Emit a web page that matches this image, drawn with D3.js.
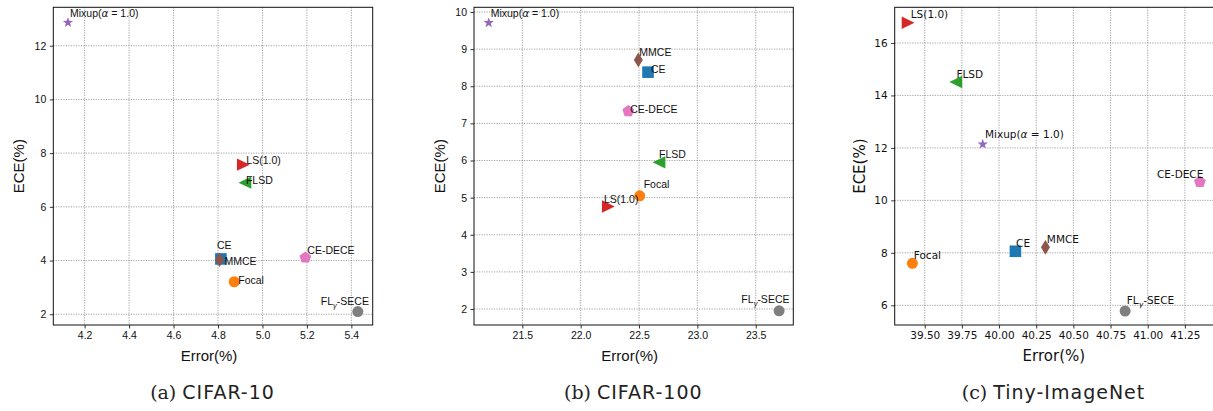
<!DOCTYPE html>
<html>
<head>
<meta charset="utf-8">
<script src="https://cdn.jsdelivr.net/npm/d3@7"></script>
<style>
  html, body { margin: 0; padding: 0; background: #fff; }
  svg { display: block; }
</style>
</head>
<body>
<div id="chart"></div>
<script>
// methods and their marker style
const methods = ["CE", "Focal", "FLSD", "LS(1.0)", "Mixup", "MMCE", "CE-DECE", "FL-SECE"];
const colors = ["#1f77b4", "#ff7f0e", "#2ca02c", "#d62728", "#9467bd", "#8c564b", "#e377c2", "#7f7f7f"];
const shapes = ["square", "circle", "triLeft", "triRight", "star", "thinDiamond", "pentagon", "circle"];

// (a) CIFAR-10
const errC10 = [4.813, 4.873, 4.921, 4.914, 4.125, 4.807, 5.193, 5.429];
const eceC10 = [4.06, 3.21, 6.90, 7.57, 12.86, 4.03, 4.11, 2.10];
// (b) CIFAR-100
const errC100 = [22.577, 22.506, 22.671, 22.237, 21.212, 22.494, 22.408, 23.70];
const eceC100 = [8.38, 5.05, 5.95, 4.76, 9.71, 8.71, 7.33, 1.95];
// (c) Tiny-ImageNet
const errTiny = [40.110, 39.417, 39.709, 39.388, 39.890, 40.312, 41.351, 40.848];
const eceTiny = [8.06, 7.60, 14.51, 16.77, 12.14, 8.21, 10.70, 5.78];

// tick labels
const xTicksC10 = [4.2, 4.4, 4.6, 4.8, 5.0, 5.2, 5.4];
const yTicksC10 = [2, 4, 6, 8, 10, 12];
const xTicksC100 = [21.5, 22.0, 22.5, 23.0, 23.5];
const yTicksC100 = [2, 3, 4, 5, 6, 7, 8, 9, 10];
const xTicksTiny = [39.50, 39.75, 40.00, 40.25, 40.50, 40.75, 41.00, 41.25];
const yTicksTiny = [6, 8, 10, 12, 14, 16];

const panels = [
    {
        caption: "(a)", name: "CIFAR-10", err: errC10, ece: eceC10,
        xTicks: xTicksC10, yTicks: yTicksC10, xFmt: d3.format(".1f"), yFmt: d3.format("d"),
        xDomain: [4.059, 5.496], yDomain: [1.60, 13.43],
        box: { left: 53.3, right: 372.7, top: 7.3, bottom: 325 },
        font: "Liberation Sans, Arial, sans-serif",
        // label offsets in px from the marker (text start, baseline)
        offsets: [[-4, -10], [4, 2], [1, 1], [3, -0.5], [2, -6], [5, 5], [2, -3.5], [-37, -7]]
    },
    {
        caption: "(b)", name: "CIFAR-100", err: errC100, ece: eceC100,
        xTicks: xTicksC100, yTicks: yTicksC100, xFmt: d3.format(".1f"), yFmt: d3.format("d"),
        xDomain: [21.086, 23.822], yDomain: [1.569, 10.127],
        box: { left: 474, right: 793.3, top: 7.3, bottom: 325 },
        font: "Liberation Sans, Arial, sans-serif",
        offsets: [[3, 0.7], [4, -7.3], [0, -4.7], [-4.3, -3.3], [2, -6], [1, -4.3], [2, 1.7], [-37.7, -7.7]]
    },
    {
        caption: "(c)", name: "Tiny-ImageNet", err: errTiny, ece: eceTiny,
        xTicks: xTicksTiny, yTicks: yTicksTiny, xFmt: d3.format(".2f"), yFmt: d3.format("d"),
        xDomain: [39.298, 41.493], yDomain: [5.25, 17.36],
        box: { left: 894.7, right: 1221, top: 7.3, bottom: 325 },
        font: "DejaVu Sans, sans-serif",
        offsets: [[0.7, -4], [1.4, -4.3], [0.6, -4], [2.7, -4.4], [2.3, -6], [1.4, -4], [-43, -4.3], [1.7, -7]]
    }
];

// marker path builders, centred on 0,0
function markerPath(shape) {
    const poly = pts => "M" + pts.map(p => p[0].toFixed(2) + "," + p[1].toFixed(2)).join("L") + "Z";
    if (shape === "circle") return d3.symbol(d3.symbolCircle, Math.PI * 5.5 * 5.5)();
    if (shape === "square") return poly([[-5.8, -5.8], [5.8, -5.8], [5.8, 5.8], [-5.8, 5.8]]);
    if (shape === "triRight") return poly([[6.4, 0], [-6.4, -6.2], [-6.4, 6.2]]);
    if (shape === "triLeft") return poly([[-6.4, 0], [6.4, -6.2], [6.4, 6.2]]);
    if (shape === "thinDiamond") return poly([[0, -7.3], [4.5, 0], [0, 7.3], [-4.5, 0]]);
    if (shape === "pentagon") {
        const pts = d3.range(5).map(i => {
            const a = -Math.PI / 2 + i * 2 * Math.PI / 5;
            return [6.2 * Math.cos(a), 6.2 * Math.sin(a)];
        });
        return poly(pts);
    }
    if (shape === "star") {
        const pts = d3.range(10).map(i => {
            const r = i % 2 === 0 ? 5.4 : 2.2;
            const a = -Math.PI / 2 + i * Math.PI / 5;
            return [r * Math.cos(a), r * Math.sin(a)];
        });
        return poly(pts);
    }
}

const svg = d3.select("#chart").append("svg")
    .attr("width", 1213)
    .attr("height", 411);

panels.forEach((p, pi) => {
    const b = p.box;
    const x = d3.scaleLinear().domain(p.xDomain).range([b.left, b.right]);
    const y = d3.scaleLinear().domain(p.yDomain).range([b.bottom, b.top]);
    const g = svg.append("g").style("font-family", p.font);

    // grid
    g.append("g").selectAll("line").data(p.xTicks).enter().append("line")
        .attr("x1", d => x(d)).attr("x2", d => x(d))
        .attr("y1", b.top).attr("y2", b.bottom)
        .attr("stroke", "#8a8a8a").attr("stroke-width", 0.8).attr("stroke-dasharray", "1.2,1.3");
    g.append("g").selectAll("line").data(p.yTicks).enter().append("line")
        .attr("x1", b.left).attr("x2", b.right)
        .attr("y1", d => y(d)).attr("y2", d => y(d))
        .attr("stroke", "#8a8a8a").attr("stroke-width", 0.8).attr("stroke-dasharray", "1.2,1.3");

    // axes
    const xAxis = g.append("g")
        .attr("transform", `translate(0,${b.bottom})`)
        .call(d3.axisBottom(x).tickValues(p.xTicks).tickFormat(p.xFmt).tickSize(3.5).tickPadding(3.5).tickSizeOuter(0));
    const yAxis = g.append("g")
        .attr("transform", `translate(${b.left},0)`)
        .call(d3.axisLeft(y).tickValues(p.yTicks).tickFormat(p.yFmt).tickSize(3.5).tickPadding(3.5).tickSizeOuter(0));
    [xAxis, yAxis].forEach(a => {
        a.select(".domain").remove();
        a.selectAll("line").attr("stroke", "#000").attr("stroke-width", 0.8);
        a.selectAll("text").attr("fill", "#111").style("font-size", "10.5px").style("font-family", p.font);
    });

    // frame
    g.append("rect")
        .attr("x", b.left).attr("y", b.top)
        .attr("width", b.right - b.left).attr("height", b.bottom - b.top)
        .attr("fill", "none").attr("stroke", "#111").attr("stroke-width", 1);

    // markers
    const pts = methods.map((m, i) => ({ m, i, ex: p.err[i], ec: p.ece[i] }));
    g.append("g").selectAll("path").data(pts).enter().append("path")
        .attr("d", d => markerPath(shapes[d.i]))
        .attr("transform", d => `translate(${x(d.ex)},${y(d.ec)})`)
        .attr("fill", d => colors[d.i]);

    // labels
    const labels = g.append("g").selectAll("text").data(pts).enter().append("text")
        .attr("x", d => x(d.ex) + p.offsets[d.i][0])
        .attr("y", d => y(d.ec) + p.offsets[d.i][1])
        .attr("fill", "#111")
        .style("font-size", "10.5px");
    labels.each(function (d) {
        const t = d3.select(this);
        if (d.m === "Mixup") {
            t.append("tspan").text("Mixup(");
            t.append("tspan").style("font-style", "italic").style("font-family", "DejaVu Sans, sans-serif").text("α");
            t.append("tspan").text(" = 1.0)");
        } else if (d.m === "FL-SECE") {
            t.append("tspan").text("FL");
            t.append("tspan").attr("dy", 3).style("font-size", "7.5px").style("font-style", "italic").text("γ");
            t.append("tspan").attr("dy", -3).text("-SECE");
        } else {
            t.text(d.m);
        }
    });

    // axis titles
    const cx = (b.left + b.right) / 2 - 4;
    g.append("text")
        .attr("x", cx).attr("y", 361)
        .attr("text-anchor", "middle")
        .attr("fill", "#111")
        .style("font-size", "15px")
        .text("Error(%)");
    g.append("text")
        .attr("transform", `translate(${b.left - 35},${(b.top + b.bottom) / 2}) rotate(-90)`)
        .attr("text-anchor", "middle")
        .attr("dominant-baseline", "central")
        .attr("fill", "#111")
        .style("font-size", "15px")
        .text("ECE(%)");

    // caption
    const cap = svg.append("text")
        .attr("x", [212.5, 633.3, 1053.5][pi]).attr("y", 399)
        .attr("text-anchor", "middle")
        .attr("fill", "#222")
        .style("font-size", "19px");
    cap.append("tspan").style("font-family", "DejaVu Serif, serif").text(p.caption + " ");
    cap.append("tspan").style("font-family", "DejaVu Sans, sans-serif").style("letter-spacing", "1px").text(p.name);
});
</script>
</body>
</html>
